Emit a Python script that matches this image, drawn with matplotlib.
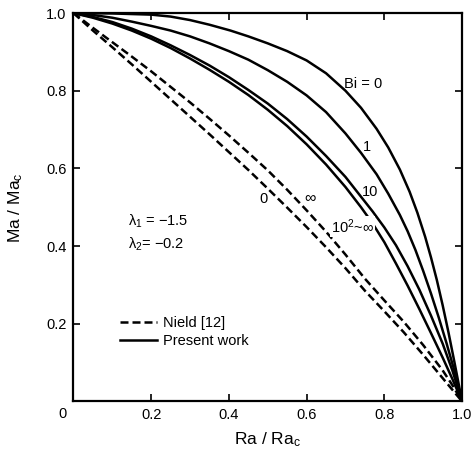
"""Ma/Ma_c vs Ra/Ra_c: Nield (dashed) vs present work (solid)."""
import matplotlib
matplotlib.use("Agg")
import matplotlib.pyplot as plt

plt.rcParams["font.family"] = ["Liberation Sans", "DejaVu Sans"]
plt.rcParams["mathtext.fontset"] = "custom"
plt.rcParams["mathtext.rm"] = "Liberation Sans"
plt.rcParams["mathtext.it"] = "Liberation Sans"

# present work (solid)
bi0_x = [0, 0.1, 0.2, 0.25, 0.3, 0.35, 0.404, 0.45, 0.5, 0.55, 0.6, 0.65,
         0.70, 0.74, 0.78, 0.81, 0.84, 0.865, 0.885, 0.905, 0.92, 0.935,
         0.95, 0.965, 0.98, 1.0]
bi0_y = [1, 0.999, 0.996, 0.991, 0.982, 0.97, 0.955, 0.94, 0.922, 0.902,
         0.878, 0.845, 0.80, 0.756, 0.702, 0.654, 0.597, 0.54, 0.486, 0.424,
         0.371, 0.313, 0.248, 0.178, 0.103, 0.0]
bi1_x = [0, 0.05, 0.1, 0.15, 0.2, 0.25, 0.3, 0.35, 0.4, 0.45, 0.5, 0.55,
         0.6, 0.65, 0.70, 0.74, 0.78, 0.81, 0.84, 0.86, 0.88, 0.90, 0.92,
         0.94, 0.96, 0.98, 1.0]
bi1_y = [1, 0.995, 0.988, 0.978, 0.967, 0.955, 0.94, 0.922, 0.902, 0.88,
         0.853, 0.823, 0.788, 0.745, 0.69, 0.64, 0.585, 0.535, 0.48, 0.438,
         0.39, 0.336, 0.278, 0.216, 0.15, 0.08, 0.0]
bi10_x = [0, 0.05, 0.1, 0.15, 0.2, 0.25, 0.3, 0.35, 0.4, 0.45, 0.5, 0.55,
          0.6, 0.65, 0.70, 0.74, 0.77, 0.80, 0.83, 0.86, 0.89, 0.92, 0.95,
          0.975, 1.0]
bi10_y = [1, 0.99, 0.977, 0.96, 0.94, 0.917, 0.892, 0.865, 0.835, 0.802,
          0.767, 0.727, 0.682, 0.632, 0.578, 0.527, 0.489, 0.448, 0.402,
          0.348, 0.288, 0.221, 0.149, 0.08, 0.0]
biinf_x = [0, 0.05, 0.1, 0.15, 0.2, 0.25, 0.3, 0.35, 0.4, 0.45, 0.5, 0.55,
           0.6, 0.65, 0.70, 0.74, 0.77, 0.80, 0.83, 0.86, 0.89, 0.92, 0.95,
           0.975, 1.0]
biinf_y = [1, 0.988, 0.973, 0.955, 0.934, 0.91, 0.883, 0.854, 0.823, 0.789,
           0.751, 0.709, 0.662, 0.61, 0.552, 0.50, 0.458, 0.41, 0.355, 0.298,
           0.238, 0.176, 0.113, 0.058, 0.0]

# Nield [12] (dashed)
nield0_x = [0, 0.05, 0.1, 0.15, 0.2, 0.25, 0.3, 0.35, 0.4, 0.45, 0.5, 0.55,
            0.6, 0.65, 0.7, 0.75, 0.8, 0.85, 0.9, 0.95, 1.0]
nield0_y = [1, 0.955, 0.912, 0.868, 0.823, 0.778, 0.733, 0.688, 0.642,
            0.596, 0.548, 0.499, 0.449, 0.397, 0.343, 0.285, 0.232, 0.178,
            0.12, 0.06, 0.0]
nieldinf_x = [0, 0.05, 0.1, 0.15, 0.2, 0.25, 0.3, 0.35, 0.4, 0.455, 0.5,
              0.55, 0.6, 0.65, 0.7, 0.75, 0.8, 0.85, 0.9, 0.95, 0.975, 1.0]
nieldinf_y = [1, 0.962, 0.925, 0.888, 0.85, 0.81, 0.77, 0.728, 0.685, 0.636,
              0.595, 0.545, 0.492, 0.437, 0.378, 0.316, 0.26, 0.205, 0.145,
              0.08, 0.042, 0.0]

ticks = [0.2, 0.4, 0.6, 0.8, 1.0]
tick_labels = ["0.2", "0.4", "0.6", "0.8", "1.0"]

fig = plt.figure(figsize=(4.71, 4.51), dpi=100)
ax = fig.add_axes([0.156, 0.110, 0.825, 0.861])

lw = 1.8
dash = (3.2, 1.6)
ax.plot(nield0_x, nield0_y, color="black", lw=lw, ls=(0, dash),
        label="Nield [12]")
ax.plot(nieldinf_x, nieldinf_y, color="black", lw=lw, ls=(0, dash))
ax.plot(bi0_x, bi0_y, color="black", lw=lw, label="Present work")
ax.plot(bi1_x, bi1_y, color="black", lw=lw)
ax.plot(bi10_x, bi10_y, color="black", lw=lw)
ax.plot(biinf_x, biinf_y, color="black", lw=lw)

fs = 10.5
ax.text(0.695, 0.818, "Bi = 0", fontsize=fs, ha="left", va="center")
ax.text(0.755, 0.655, "1", fontsize=fs, ha="center", va="center")
ax.text(0.762, 0.54, "10", fontsize=fs, ha="center", va="center")
ax.text(0.718, 0.45, r"10$^2$~$\infty$", fontsize=fs, ha="center",
        va="center", bbox=dict(fc="white", ec="none", pad=0.8))
ax.text(0.489, 0.52, "0", fontsize=fs, ha="center", va="center")
ax.text(0.61, 0.525, r"$\infty$", fontsize=fs + 1, ha="center", va="center")
ax.text(0.14, 0.463, r"$\lambda_1$ = $-$1.5", fontsize=fs, ha="left",
        va="center")
ax.text(0.14, 0.404, r"$\lambda_2$= $-$0.2", fontsize=fs, ha="left",
        va="center")

ax.legend(loc="center left", bbox_to_anchor=(0.12, 0.178), frameon=False,
          fontsize=fs, handlelength=2.5, handletextpad=0.45, borderpad=0,
          borderaxespad=0, labelspacing=0.3)

ax.set_xlim(0, 1)
ax.set_ylim(0, 1)
ax.set_xticks(ticks)
ax.set_xticklabels(tick_labels)
ax.set_yticks(ticks)
ax.set_yticklabels(tick_labels)
ax.tick_params(direction="in", length=5, width=1.2, top=True, right=True,
               labelsize=10.5, pad=5)
ax.text(-0.027, -0.015, "0", fontsize=10.5, ha="center", va="top",
        transform=ax.transData, clip_on=False)
for sp in ax.spines.values():
    sp.set_linewidth(1.6)

ax.set_xlabel(r"Ra / Ra$_\mathregular{c}$", fontsize=12.5)
ax.set_ylabel(r"Ma / Ma$_\mathregular{c}$", fontsize=12.5)
ax.xaxis.set_label_coords(0.5, -0.075)
ax.yaxis.set_label_coords(-0.125, 0.5)

fig.savefig("out.png", dpi=100)
